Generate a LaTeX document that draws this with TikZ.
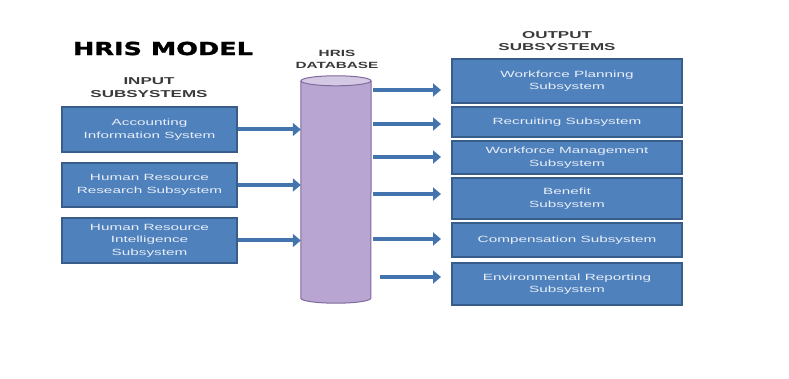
\documentclass[tikz,border=0pt]{standalone}
\usepackage{fontspec}
\setmainfont{Liberation Sans}
\newfontfamily\boxfont[FakeStretch=1.7]{Liberation Sans}
\newfontfamily\titlefont[FakeStretch=1.42,FakeBold=1.5]{DejaVu Sans}
\usetikzlibrary{arrows.meta}
\definecolor{boxblue}{HTML}{4F81BD}
\definecolor{boxedge}{HTML}{385D8A}
\definecolor{arrowblue}{HTML}{4474AE}
\definecolor{cylfill}{HTML}{B8A5D2}
\definecolor{cyledge}{HTML}{7E6A9C}
\definecolor{cyltop}{HTML}{D4C9E5}
\definecolor{headgray}{HTML}{3A3A3A}
\definecolor{boxtext}{HTML}{E8EEF7}
\begin{document}
\begin{tikzpicture}[x=1pt,y=-1pt,
  subbox/.style={draw=boxedge, line width=1.2pt, fill=boxblue, text=boxtext, align=center,
    font=\boxfont\fontsize{9}{12.5}\selectfont, inner sep=0pt},
  inbox/.style={subbox, minimum width=175pt},
  outbox/.style={subbox, minimum width=230pt},
  heading/.style={text=headgray, align=center, font=\boxfont\bfseries\fontsize{10}{12.5}\selectfont, inner sep=0pt},
  flow/.style={draw=arrowblue, line width=4pt, -{Triangle[length=8pt,width=13pt]}},
]
\useasboundingbox (0,0) rectangle (789,379);

% title and headings
\node[text=black, font=\titlefont\bfseries\fontsize{18}{18}\selectfont, inner sep=0pt] (title) at (163,48.5) {HRIS MODEL};
\node[heading] (inhead) at (149,87.5) {INPUT\\SUBSYSTEMS};
\node[heading, font=\boxfont\bfseries\fontsize{9}{12}\selectfont] (dbhead) at (337,59) {HRIS\\DATABASE};
\node[heading] (outhead) at (557,41) {OUTPUT\\SUBSYSTEMS};

% input boxes
\node[inbox, minimum height=45pt] (in1) at (149.5,129.5) {Accounting\\Information System};
\node[inbox, minimum height=44pt] (in2) at (149.5,185) {Human Resource\\Research Subsystem};
\node[inbox, minimum height=45pt] (in3) at (149.5,240.5) {Human Resource\\Intelligence\\Subsystem};

% output boxes
\node[outbox, minimum height=44pt] (ob1) at (567,81) {Workforce Planning\\Subsystem};
\node[outbox, minimum height=30pt] (ob2) at (567,122) {Recruiting Subsystem};
\node[outbox, minimum height=33pt] (ob3) at (567,157.5) {Workforce Management\\Subsystem};
\node[outbox, minimum height=41pt] (ob4) at (567,198.5) {Benefit\\Subsystem};
\node[outbox, minimum height=34pt] (ob5) at (567,240) {Compensation Subsystem};
\node[outbox, minimum height=42pt] (ob6) at (567,284) {Environmental Reporting\\Subsystem};

% database cylinder
\node[minimum width=70pt, minimum height=217pt, inner sep=0pt] (db) at (336,189.5) {};
\path[fill=cylfill, draw=cyledge, line width=1pt]
  (db.north west) -- (db.south west)
  arc[start angle=180, end angle=360, x radius=35pt, y radius=5pt]
  -- (db.north east);
\draw[fill=cyltop, draw=cyledge, line width=1pt] (db.north) ellipse[x radius=35pt, y radius=5pt];

% input arrows
\draw[flow] (in1.east) -- (in1.east -| db.west);
\draw[flow] (in2.east) -- (in2.east -| db.west);
\draw[flow] (in3.east) -- (in3.east -| db.west);

% output arrows
\coordinate (o1) at (441,90);
\coordinate (o2) at (441,124);
\coordinate (o3) at (441,157);
\coordinate (o4) at (441,194);
\coordinate (o5) at (441,239);
\coordinate (o6) at (441,277);
\draw[flow] ([xshift=2pt]db.east |- o1) -- (o1);
\draw[flow] ([xshift=2pt]db.east |- o2) -- (o2);
\draw[flow] ([xshift=2pt]db.east |- o3) -- (o3);
\draw[flow] ([xshift=2pt]db.east |- o4) -- (o4);
\draw[flow] ([xshift=2pt]db.east |- o5) -- (o5);
\draw[flow] ([xshift=9pt]db.east |- o6) -- (o6);
\end{tikzpicture}
\end{document}
